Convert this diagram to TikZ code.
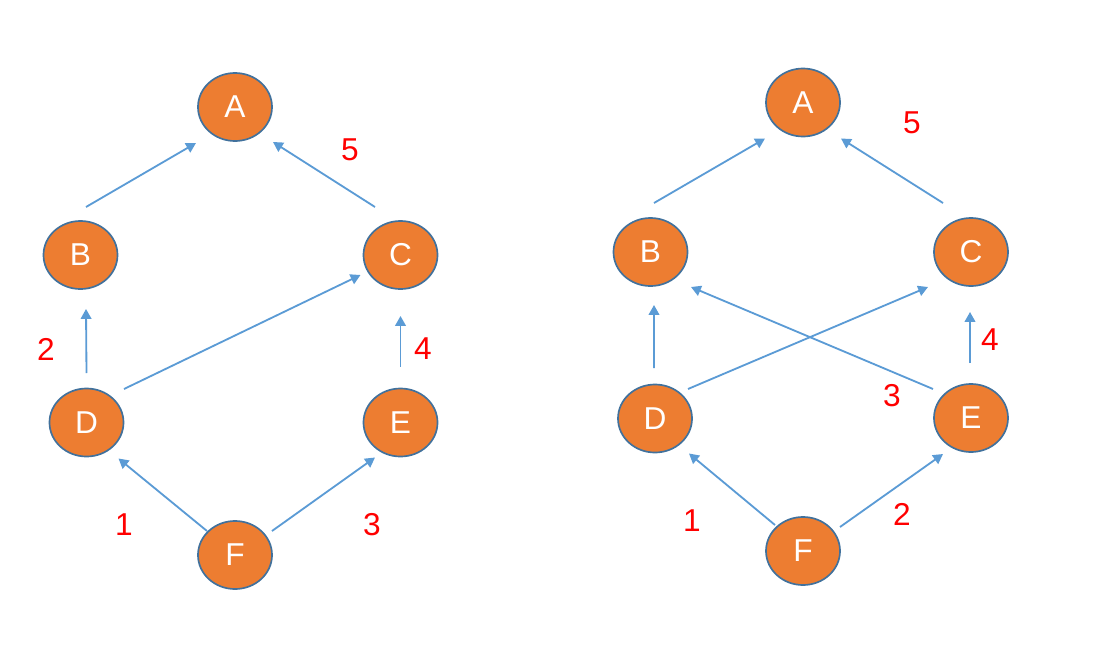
\documentclass[tikz,border=0pt]{standalone}
\usepackage{fontspec}
\setmainfont{Liberation Sans}
\usepackage{tikz}
\usetikzlibrary{arrows.meta, calc, shapes.geometric}
\definecolor{nodeorange}{HTML}{ED7D31}
\definecolor{nodeborder}{HTML}{41719C}
\definecolor{arcblue}{HTML}{5B9BD5}
\definecolor{numred}{HTML}{FF0000}

\begin{document}
\begin{tikzpicture}[x=0.025cm, y=-0.025cm, >={Triangle[length=7pt,width=7.5pt]},
  vertex/.style={ellipse, draw=nodeborder, line width=1.2pt, fill=nodeorange,
    minimum width=1.85cm, minimum height=1.7cm, inner sep=0pt,
    text=white, font=\fontsize{22.5}{26}\selectfont},
  arc/.style={->, draw=arcblue, line width=1.3pt},
  num/.style={text=numred, font=\fontsize{22.5}{26}\selectfont}]
\useasboundingbox (0,0) rectangle (1102,644);

% --- Nodi (grafo sinistro) ---
\foreach \n/\x/\y in {A/235/107, B/80.5/255, C/400.5/255, D/86.5/422.5, E/400.5/422.5, F/235/555}{
  \node[vertex] (l\n) at (\x,\y) {\n};
}
% --- Nodi (grafo destro) ---
\foreach \n/\x/\y in {A/803/102.5, B/650.5/252, C/971/252, D/655/418.5, E/971/418, F/803/551}{
  \node[vertex] (r\n) at (\x,\y) {\n};
}

% --- Archi (grafo sinistro) ---
\foreach \s/\sx/\sy/\t/\tx/\ty in {lB/5.5/-48/lA/-39/36, lC/-25.5/-48/lA/38/35,
    lD/0/-49.5/lB/5.5/54, lD/37.5/-33.5/lC/-40/20,
    lE/0/-56/lC/0/61, lF/-28/-24/lD/32/36, lF/37/-24/lE/-25.5/35}{
  \draw[arc] ($(\s)+(\sx,\sy)$) -- ($(\t)+(\tx,\ty)$);
}
% --- Archi (grafo destro) ---
\foreach \s/\sx/\sy/\t/\tx/\ty in {rB/3.5/-49/rA/-38/36, rC/-28/-49/rA/38/36,
    rD/-1/-50.5/rB/3.5/53, rD/33/-29.5/rC/-43/35, rE/-38/-29/rB/40.5/35,
    rE/-1/-55/rC/-1/60, rF/-28/-26/rD/34/35, rF/37/-24/rE/-28/36}{
  \draw[arc] ($(\s)+(\sx,\sy)$) -- ($(\t)+(\tx,\ty)$);
}

% --- Ordine di visita (numeri rossi) ---
\foreach \x/\y/\t in {124/525/1, 46/349/2, 372/525/3, 423/349/4, 350/150/5}{
  \node[num] (ln\t) at (\x,\y) {\t};
}
\foreach \x/\y/\t in {692/521/1, 902/514/2, 892/396/3, 990/340/4, 912/123/5}{
  \node[num] (rn\t) at (\x,\y) {\t};
}

\end{tikzpicture}
\end{document}
